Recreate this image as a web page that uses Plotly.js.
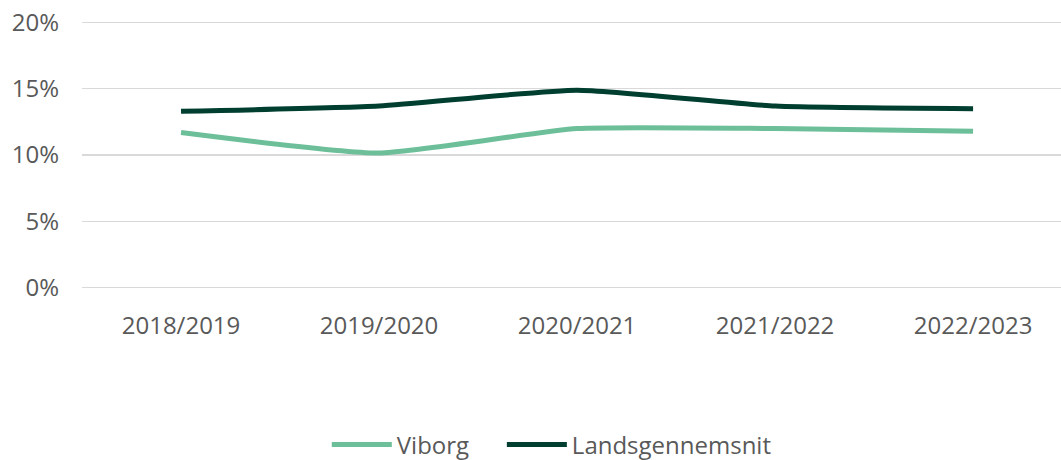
<!DOCTYPE html>
<html><head><meta charset="utf-8">
<script src="https://cdn.plot.ly/plotly-3.0.1.min.js"></script>
<style>html,body{margin:0;padding:0;background:#fff}#c{width:1061px;height:460px}</style>
</head><body><div id="c"></div>
<script>
const categories = ["2018/2019","2019/2020","2020/2021","2021/2022","2022/2023"];
const viborg = [0.117, 0.1015, 0.120, 0.120, 0.118];
const landsgennemsnit = [0.133, 0.137, 0.149, 0.137, 0.135];
const yTicks = [0, 0.05, 0.10, 0.15, 0.20];

const font = {family: "Open Sans, sans-serif", size: 24, color: "#595959"};
const traces = [
  {x: categories, y: viborg, name: "Viborg", type: "scatter", mode: "lines", legend: "legend",
   line: {color: "#6cbf99", width: 5, shape: "spline", smoothing: 0.5}},
  {x: categories, y: landsgennemsnit, name: "Landsgennemsnit", type: "scatter", mode: "lines", legend: "legend2",
   line: {color: "#003f30", width: 5, shape: "spline", smoothing: 0.5}}
];
const legendBase = {orientation: "h", xanchor: "left", xref: "container", y: 0.033, yanchor: "middle",
                    yref: "container", font: font, itemwidth: 60, bgcolor: "rgba(0,0,0,0)"};
const layout = {
  width: 1061, height: 460,
  margin: {l: 82, r: 0, t: 20, b: 170, autoexpand: false},
  paper_bgcolor: "#fff", plot_bgcolor: "#fff",
  font: font,
  showlegend: true,
  legend: Object.assign({}, legendBase, {x: 0.308}),
  legend2: Object.assign({}, legendBase, {x: 0.473}),
  xaxis: {type: "category", range: [-0.5, 4.444], showgrid: false, zeroline: false,
          showline: false, ticks: "", tickfont: font, ticklabelstandoff: 19, fixedrange: true},
  yaxis: {range: [-0.002, 0.202], tickvals: yTicks, tickformat: ".0%", showgrid: true,
          gridcolor: "#d9d9d9", gridwidth: 1.2, zeroline: false, showline: false,
          ticks: "", tickfont: font, ticklabelstandoff: 22, fixedrange: true}
};
Plotly.newPlot("c", traces, layout, {displayModeBar: false, staticPlot: true});
</script></body></html>
